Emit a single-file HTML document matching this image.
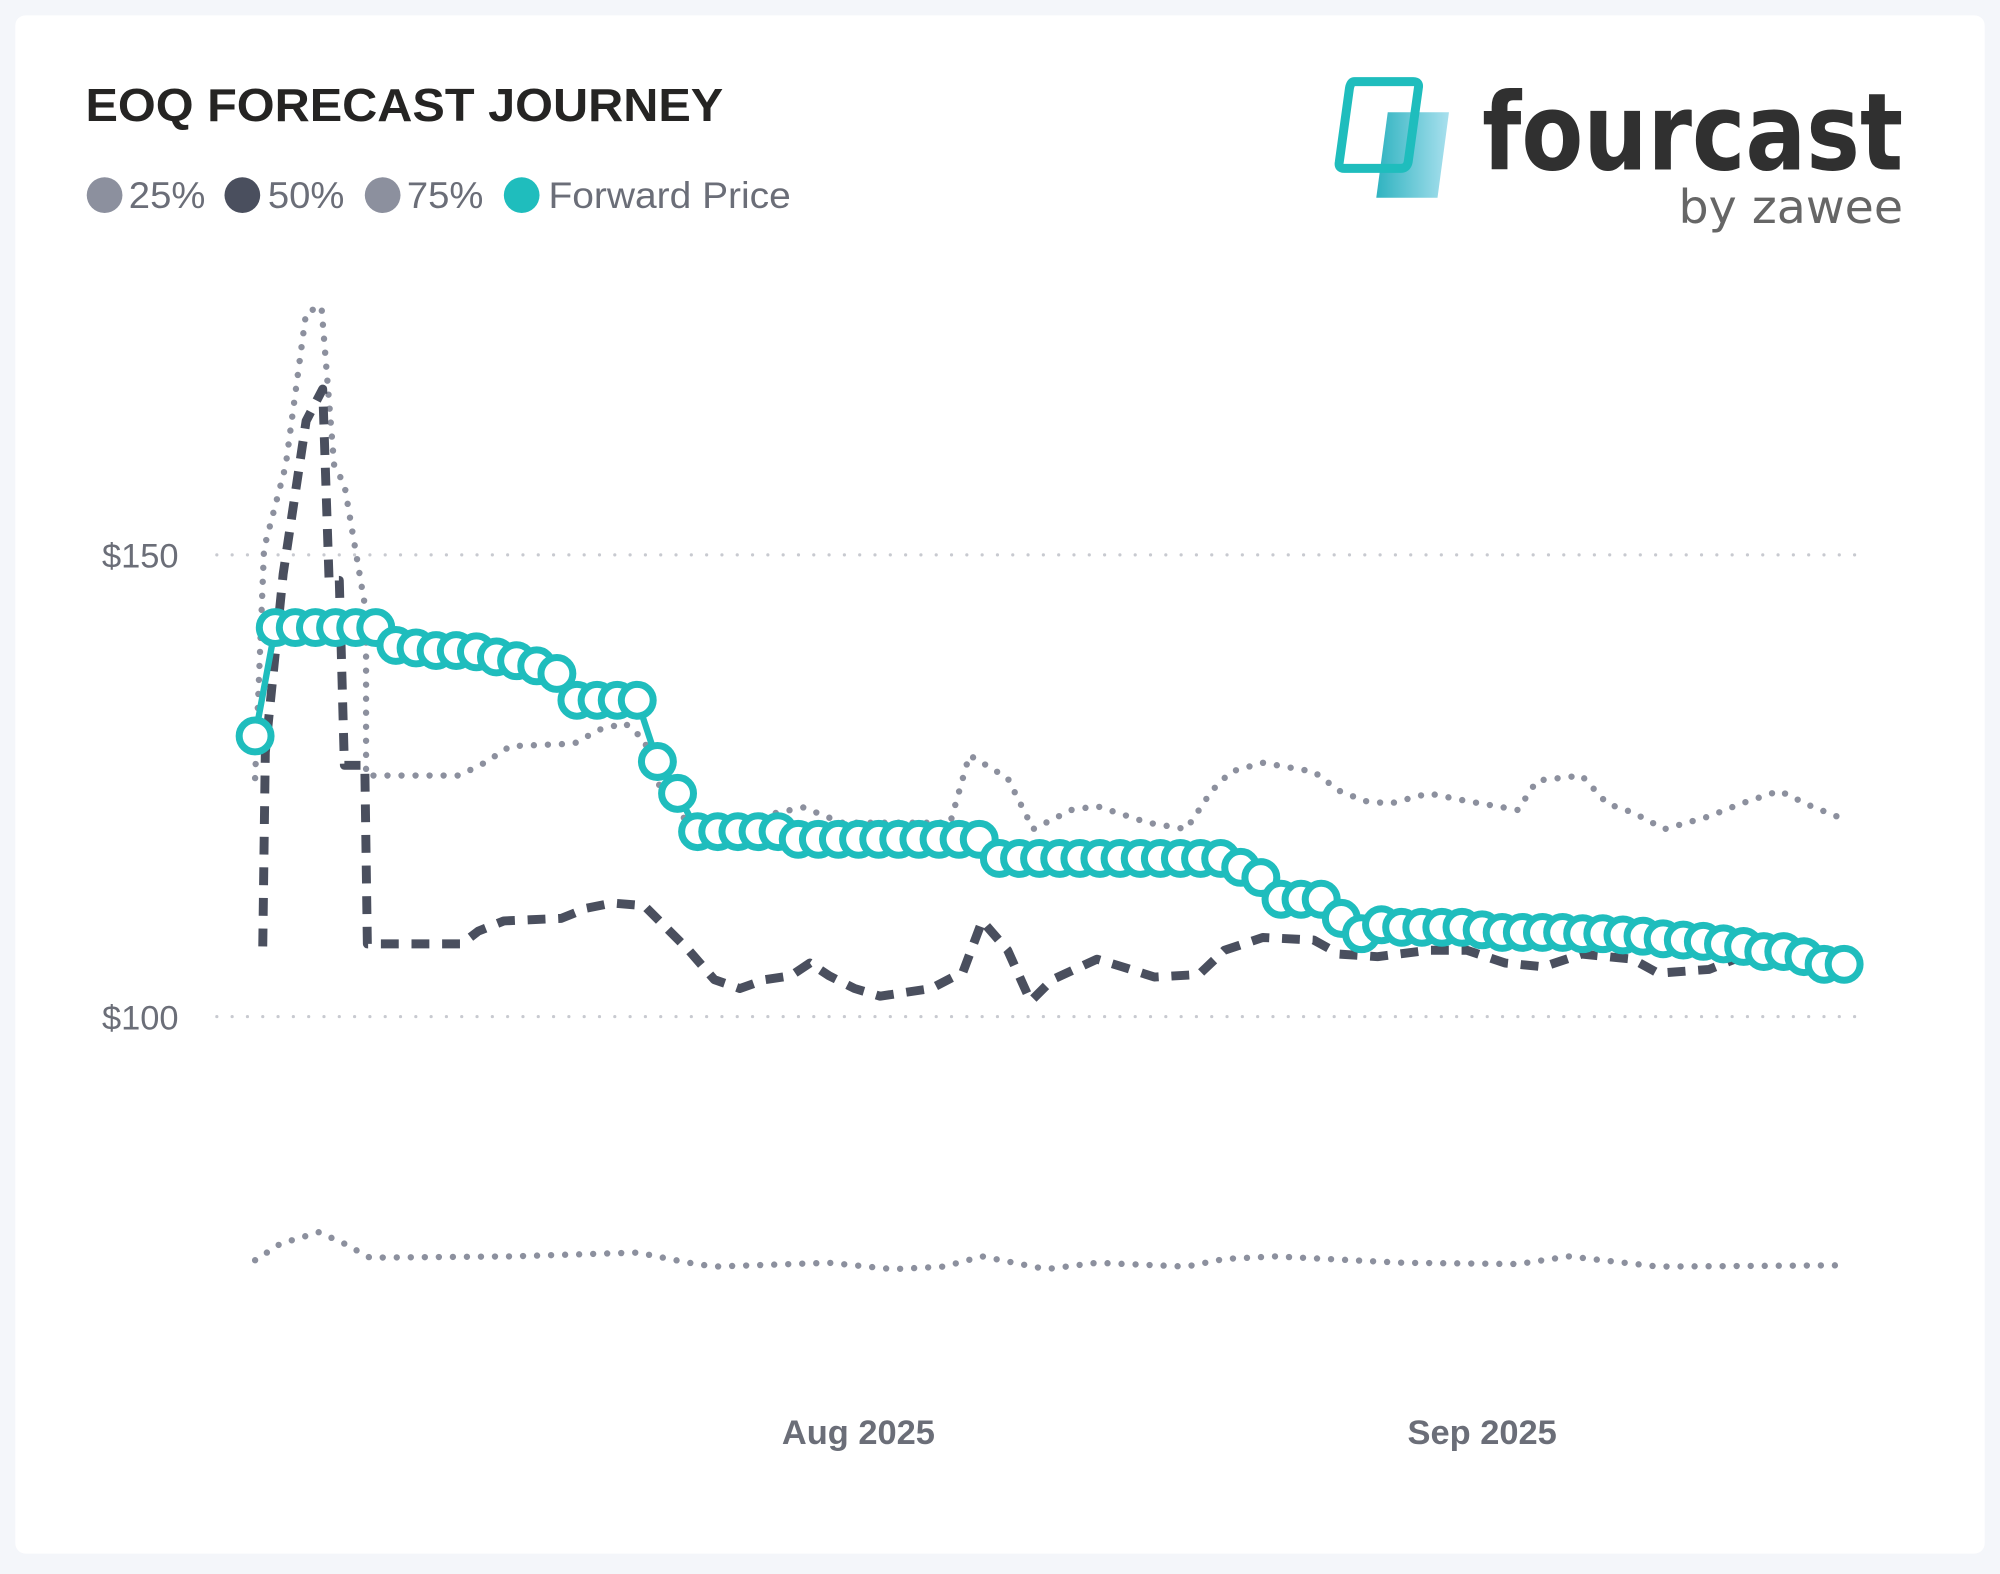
<!DOCTYPE html>
<html><head><meta charset="utf-8"><style>
html,body{margin:0;padding:0;background:#f4f6fa;}
svg{display:block;}
</style></head><body>
<svg width="2000" height="1574" viewBox="0 0 1568 1234" xmlns="http://www.w3.org/2000/svg">
<rect x="0" y="0" width="1568" height="1234" fill="#f4f6fa"/>
<rect x="12" y="12" width="1544" height="1206" rx="8" fill="#ffffff"/>
<text x="67" y="95" font-family="Liberation Sans, sans-serif" font-weight="bold" font-size="36" fill="#252423" textLength="500" lengthAdjust="spacingAndGlyphs">EOQ FORECAST JOURNEY</text>
<g font-family="Liberation Sans, sans-serif" font-size="29" fill="#6b6e78">
<circle cx="82" cy="153" r="14" fill="#8c909e"/><text x="101" y="163" textLength="60" lengthAdjust="spacingAndGlyphs">25%</text>
<circle cx="190" cy="153" r="14" fill="#4a4f5e"/><text x="210" y="163" textLength="60" lengthAdjust="spacingAndGlyphs">50%</text>
<circle cx="300" cy="153" r="14" fill="#8c909e"/><text x="319" y="163" textLength="60" lengthAdjust="spacingAndGlyphs">75%</text>
<circle cx="409" cy="153" r="14" fill="#1fbdbd"/><text x="430" y="163" textLength="190" lengthAdjust="spacingAndGlyphs">Forward Price</text>
</g>
<defs><linearGradient id="lg" x1="0" x2="1"><stop offset="0" stop-color="#2fb3c0"/><stop offset="1" stop-color="#a9e0ee"/></linearGradient></defs>
<path d="M1088 88 L1136 88 L1127 155 L1079 155 Z" fill="url(#lg)"/>
<path d="M1062 64 L1108 64 Q1113 64 1112 69 L1104 127 Q1103 132 1098 132 L1054 132 Q1049 132 1050 127 L1058 69 Q1059 64 1062 64 Z" fill="none" stroke="#1fbdbd" stroke-width="7"/>
<text x="1162" y="133" font-family="DejaVu Sans, sans-serif" font-weight="bold" font-size="84" fill="#303030" textLength="330" lengthAdjust="spacingAndGlyphs">fourcast</text>
<text x="1316" y="175" font-family="DejaVu Sans, sans-serif" font-size="36" fill="#666" textLength="176" lengthAdjust="spacingAndGlyphs">by zawee</text>
<g stroke="#c8cad0" stroke-width="2.5" stroke-dasharray="0 12" stroke-linecap="round">
<line x1="170" y1="435" x2="1465" y2="435"/>
<line x1="170" y1="797" x2="1465" y2="797"/>
</g>
<g font-family="Liberation Sans, sans-serif" font-size="27" fill="#6b6e78">
<text x="140" y="445" text-anchor="end">$150</text>
<text x="140" y="807" text-anchor="end">$100</text>
<text x="673" y="1132" text-anchor="middle" font-weight="bold">Aug 2025</text>
<text x="1162" y="1132" text-anchor="middle" font-weight="bold">Sep 2025</text>
</g>
<g fill="none" stroke-linecap="round" stroke-linejoin="round" stroke="#8c909e" stroke-width="5" stroke-dasharray="0 11">
<polyline points="200,988 220,975 250,966 270,975 290,986 400,985 500,982 540,990 560,993 650,990 700,995 740,993 770,985 820,995 860,990 930,993 960,987 1000,985 1100,990 1190,991 1230,985 1300,993 1440,992"/>
<polyline points="200,610 207,430 224,365 240,245 252,240 262,365 270,380 287,480 287,608 360,608 380,598 400,585 450,583 470,572 490,567 505,580 520,625 545,650 630,633 660,645 745,645 760,592 790,610 810,650 840,635 860,632 900,645 930,650 950,620 965,605 990,598 1030,605 1050,620 1070,628 1090,630 1120,622 1150,628 1190,635 1205,612 1240,608 1260,630 1280,637 1305,650 1340,640 1365,630 1395,620 1420,632 1440,640"/>
</g>
<polyline fill="none" stroke="#4a4f5e" stroke-width="7" stroke-dasharray="14 10" stroke-linejoin="round" points="206,742 208,590 222,450 240,330 253,305 258,455 266,455 270,600 286,600 288,740 362,740 375,730 395,722 440,720 460,712 480,708 505,710 520,725 540,745 560,768 580,775 600,768 620,765 635,755 650,765 670,775 690,781 730,775 755,762 770,722 790,745 808,785 825,768 860,752 880,758 905,766 940,764 960,745 990,735 1030,737 1050,748 1080,750 1120,745 1150,745 1180,755 1210,758 1240,748 1280,752 1300,763 1340,760 1360,752 1400,752 1420,755 1445,757"/>
<polyline fill="none" stroke="#1fbdbd" stroke-width="5" points="200,577 215.8,492 231.5,492 247.3,492 263.1,492 278.9,492 294.6,492 310.4,506 326.2,508 341.9,510 357.7,510 373.5,511 389.2,515 405,518 420.8,522 436.6,528 452.3,549 468.1,549 483.9,549 499.6,549 515.4,597 531.2,622 546.9,652 562.7,652 578.5,652 594.3,652 610,652 625.8,658 641.6,658 657.3,658 673.1,658 688.9,658 704.6,658 720.4,658 736.2,658 751.9,658 767.7,658 783.5,673 799.3,673 815,673 830.8,673 846.6,673 862.3,673 878.1,673 893.9,673 909.7,673 925.4,673 941.2,673 957,673 972.7,680 988.5,688 1004.3,705 1020,705 1035.8,705 1051.6,720 1067.4,732 1083.1,725 1098.9,727 1114.7,727 1130.4,727 1146.2,727 1162,729 1177.7,731 1193.5,731 1209.3,731 1225.1,731 1240.8,732 1256.6,732 1272.4,733 1288.1,734 1303.9,736 1319.7,737 1335.4,738 1351.2,740 1367,742 1382.8,746 1398.5,746 1414.3,750 1430.1,756 1445.8,756"/>
<g fill="#fff" stroke="#1fbdbd" stroke-width="5.5">
<circle cx="200" cy="577" r="12.5"/><circle cx="215.8" cy="492" r="12.5"/><circle cx="231.5" cy="492" r="12.5"/><circle cx="247.3" cy="492" r="12.5"/><circle cx="263.1" cy="492" r="12.5"/><circle cx="278.9" cy="492" r="12.5"/><circle cx="294.6" cy="492" r="12.5"/><circle cx="310.4" cy="506" r="12.5"/><circle cx="326.2" cy="508" r="12.5"/><circle cx="341.9" cy="510" r="12.5"/><circle cx="357.7" cy="510" r="12.5"/><circle cx="373.5" cy="511" r="12.5"/><circle cx="389.2" cy="515" r="12.5"/><circle cx="405" cy="518" r="12.5"/><circle cx="420.8" cy="522" r="12.5"/><circle cx="436.6" cy="528" r="12.5"/><circle cx="452.3" cy="549" r="12.5"/><circle cx="468.1" cy="549" r="12.5"/><circle cx="483.9" cy="549" r="12.5"/><circle cx="499.6" cy="549" r="12.5"/><circle cx="515.4" cy="597" r="12.5"/><circle cx="531.2" cy="622" r="12.5"/><circle cx="546.9" cy="652" r="12.5"/><circle cx="562.7" cy="652" r="12.5"/><circle cx="578.5" cy="652" r="12.5"/><circle cx="594.3" cy="652" r="12.5"/><circle cx="610" cy="652" r="12.5"/><circle cx="625.8" cy="658" r="12.5"/><circle cx="641.6" cy="658" r="12.5"/><circle cx="657.3" cy="658" r="12.5"/><circle cx="673.1" cy="658" r="12.5"/><circle cx="688.9" cy="658" r="12.5"/><circle cx="704.6" cy="658" r="12.5"/><circle cx="720.4" cy="658" r="12.5"/><circle cx="736.2" cy="658" r="12.5"/><circle cx="751.9" cy="658" r="12.5"/><circle cx="767.7" cy="658" r="12.5"/><circle cx="783.5" cy="673" r="12.5"/><circle cx="799.3" cy="673" r="12.5"/><circle cx="815" cy="673" r="12.5"/><circle cx="830.8" cy="673" r="12.5"/><circle cx="846.6" cy="673" r="12.5"/><circle cx="862.3" cy="673" r="12.5"/><circle cx="878.1" cy="673" r="12.5"/><circle cx="893.9" cy="673" r="12.5"/><circle cx="909.7" cy="673" r="12.5"/><circle cx="925.4" cy="673" r="12.5"/><circle cx="941.2" cy="673" r="12.5"/><circle cx="957" cy="673" r="12.5"/><circle cx="972.7" cy="680" r="12.5"/><circle cx="988.5" cy="688" r="12.5"/><circle cx="1004.3" cy="705" r="12.5"/><circle cx="1020" cy="705" r="12.5"/><circle cx="1035.8" cy="705" r="12.5"/><circle cx="1051.6" cy="720" r="12.5"/><circle cx="1067.4" cy="732" r="12.5"/><circle cx="1083.1" cy="725" r="12.5"/><circle cx="1098.9" cy="727" r="12.5"/><circle cx="1114.7" cy="727" r="12.5"/><circle cx="1130.4" cy="727" r="12.5"/><circle cx="1146.2" cy="727" r="12.5"/><circle cx="1162" cy="729" r="12.5"/><circle cx="1177.7" cy="731" r="12.5"/><circle cx="1193.5" cy="731" r="12.5"/><circle cx="1209.3" cy="731" r="12.5"/><circle cx="1225.1" cy="731" r="12.5"/><circle cx="1240.8" cy="732" r="12.5"/><circle cx="1256.6" cy="732" r="12.5"/><circle cx="1272.4" cy="733" r="12.5"/><circle cx="1288.1" cy="734" r="12.5"/><circle cx="1303.9" cy="736" r="12.5"/><circle cx="1319.7" cy="737" r="12.5"/><circle cx="1335.4" cy="738" r="12.5"/><circle cx="1351.2" cy="740" r="12.5"/><circle cx="1367" cy="742" r="12.5"/><circle cx="1382.8" cy="746" r="12.5"/><circle cx="1398.5" cy="746" r="12.5"/><circle cx="1414.3" cy="750" r="12.5"/><circle cx="1430.1" cy="756" r="12.5"/><circle cx="1445.8" cy="756" r="12.5"/>
</g>
</svg>
</body></html>
